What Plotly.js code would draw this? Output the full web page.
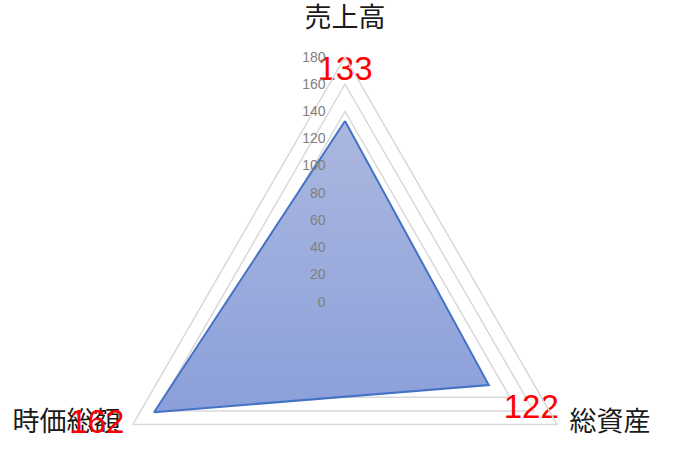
<!DOCTYPE html>
<html>
<head>
<meta charset="utf-8">
<script src="https://cdn.plot.ly/plotly-3.0.1.min.js"></script>
<style>
    html, body { margin: 0; padding: 0; background: #fff; overflow: hidden; }
    #frame { width: 676px; height: 457px; overflow: hidden; }
</style>
</head>
<body>
<div id="frame"><div id="chart"></div></div>
<script>
// Radar chart: 売上高 / 総資産 / 時価総額

const categories = ['売上高', '総資産', '時価総額'];
const values = [133, 122, 162];
const radialTicks = [0, 20, 40, 60, 80, 100, 120, 140, 160, 180];
const radialMax = 180;

// data labels sit a little outside each point (held inside the axis range)
const labelOffset = 36;

const closedR = values.concat([values[0]]);
const closedTheta = categories.concat([categories[0]]);

const labelR = values.map(function(v) { return Math.min(v + labelOffset, radialMax); });
const labelPos = values.map(function(v) {
    return v + labelOffset > radialMax ? 'middle left' : 'middle center';
});

const cjkFont = 'Noto Sans CJK JP, sans-serif';
const numFont = 'Liberation Sans, Arial, sans-serif';

const traces = [
    {
        type: 'scatterpolar',
        mode: 'lines',
        r: closedR,
        theta: closedTheta,
        fill: 'toself',
        fillcolor: '#9babdc',
        line: { color: '#4472c4', width: 2 },
        hoverinfo: 'skip'
    },
    // category names for the two lower corners (invisible marker gives the gap)
    {
        type: 'scatterpolar',
        mode: 'markers+text',
        r: [radialMax, radialMax],
        theta: categories.slice(1),
        text: categories.slice(1),
        textposition: ['middle right', 'middle left'],
        textfont: { family: cjkFont, size: 27, color: '#1a1a1a' },
        marker: { size: 18, color: 'rgba(0,0,0,0)' },
        cliponaxis: false,
        hoverinfo: 'skip'
    },
    // data labels
    {
        type: 'scatterpolar',
        mode: 'markers+text',
        r: labelR,
        theta: categories,
        text: values.map(String),
        textposition: labelPos,
        textfont: { family: numFont, size: 33, color: '#ff0000' },
        marker: { size: 12, color: 'rgba(0,0,0,0)' },
        cliponaxis: false,
        hoverinfo: 'skip'
    }
];

// plot is taller than the window so the circle fits; the frame crops it
const W = 676, H = 560;

const layout = {
    width: W,
    height: H,
    margin: { t: 0, r: 0, b: 0, l: 0 },
    paper_bgcolor: '#ffffff',
    showlegend: false,
    polar: {
        domain: { x: [100 / W, 590 / W], y: [1 - 547 / H, 1 - 57 / H] },
        bgcolor: '#ffffff',
        gridshape: 'linear',
        radialaxis: {
            range: [0, radialMax],
            tickvals: radialTicks,
            ticktext: radialTicks.map(String),
            angle: 90,
            tickangle: 90,
            side: 'counterclockwise',
            showline: false,
            ticks: 'outside',
            ticklen: 14,
            tickcolor: 'rgba(0,0,0,0)',
            gridcolor: '#d9d9d9',
            gridwidth: 1.5,
            tickfont: { family: numFont, size: 14, color: '#808080' }
        },
        angularaxis: {
            type: 'category',
            categoryarray: categories,
            tickvals: categories,
            // only the top name comes from the axis, the lower two are a text trace
            ticktext: [categories[0], '', ''],
            rotation: 90,
            direction: 'clockwise',
            showgrid: false,
            showline: true,
            linecolor: '#d9d9d9',
            linewidth: 1.5,
            ticks: 'outside',
            ticklen: 18,
            tickcolor: 'rgba(0,0,0,0)',
            tickfont: { family: cjkFont, size: 27, color: '#1a1a1a' }
        }
    }
};

Plotly.newPlot('chart', traces, layout, { displayModeBar: false, staticPlot: true }).then(function(gd) {
    // Excel-like vertical gradient on the filled area
    const svg = gd.querySelector('svg.main-svg');
    const ns = 'http://www.w3.org/2000/svg';
    let defs = svg.querySelector('defs');
    if (!defs) {
        defs = document.createElementNS(ns, 'defs');
        svg.insertBefore(defs, svg.firstChild);
    }
    const grad = document.createElementNS(ns, 'linearGradient');
    grad.setAttribute('id', 'radarFill');
    grad.setAttribute('x1', '0'); grad.setAttribute('y1', '0');
    grad.setAttribute('x2', '0'); grad.setAttribute('y2', '1');
    [['0', '#abb7df'], ['1', '#8ba0da']].forEach(function(s) {
        const stop = document.createElementNS(ns, 'stop');
        stop.setAttribute('offset', s[0]);
        stop.setAttribute('stop-color', s[1]);
        grad.appendChild(stop);
    });
    defs.appendChild(grad);
    const fill = gd.querySelector('.scatterlayer .trace path.js-fill');
    if (fill) {
        fill.style.fill = 'url(#radarFill)';
    }
});
</script>
</body>
</html>
